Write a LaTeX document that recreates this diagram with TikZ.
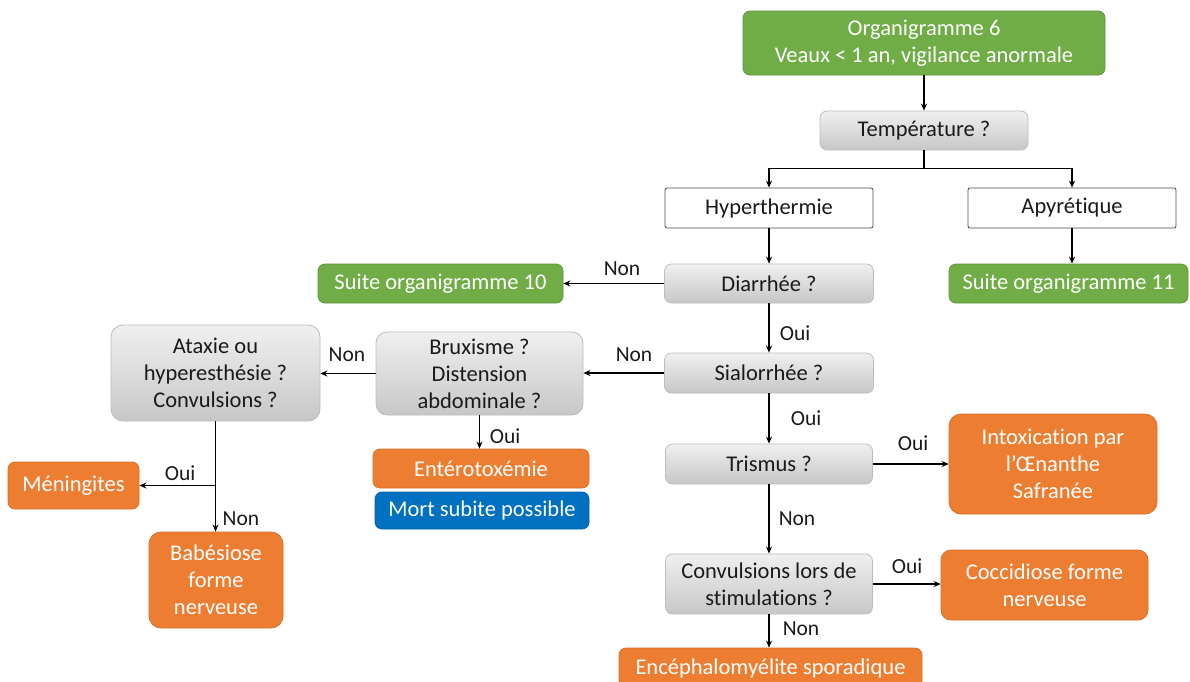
\documentclass[tikz,border=0pt]{standalone}
\usepackage{fontspec}
\setmainfont[Ligatures=NoCommon]{Carlito}
\usetikzlibrary{arrows.meta,calc}
\definecolor{vert}{HTML}{70AD47}
\definecolor{orange}{HTML}{ED7D31}
\definecolor{bleu}{HTML}{0070C0}
\definecolor{txt}{HTML}{1A1A1A}
\definecolor{grisbord}{HTML}{BDBDBD}
\tikzset{
  base/.style={rounded corners=7pt, inner sep=0pt, align=center,
    font=\fontsize{22.5}{27}\selectfont, line width=0.8pt},
  sz/.style 2 args={minimum width=#1pt, minimum height=#2pt},
  greenbox/.style={base, fill=vert, draw=vert!85!black, text=white},
  orangebox/.style={base, fill=orange, draw=orange!90!black, text=white},
  bluebox/.style={base, fill=bleu, draw=bleu!90!black, text=white},
  graybox/.style={base, top color=gray!12, bottom color=gray!44, draw=grisbord, text=txt},
  whitebox/.style={base, rounded corners=2pt, fill=white, draw=black!70, text=txt},
  arr/.style={-{Stealth[length=7pt,width=6pt]}, line width=1.2pt},
  ln/.style={line width=1.2pt},
  lbl/.style={font=\fontsize{21.5}{24}\selectfont, text=txt, inner sep=0pt}
}
\begin{document}
\begin{tikzpicture}[x=1pt,y=-1pt]
\useasboundingbox (0,0) rectangle (1190,681);
\clip (0,0) rectangle (1190,681);
\fill[white] (0,0) rectangle (1190,681);

% nodes
\node[greenbox, sz={362}{64}] (org6) at (924,43) {Organigramme 6\\Veaux < 1 an, vigilance anormale};
\node[graybox, sz={208}{39}] (temp) at (924,130.5) {Température ?};
\node[whitebox, sz={208}{40}] (hyper) at (769,208) {Hyperthermie};
\node[whitebox, sz={208}{40}] (apy) at (1072,208) {Apyrétique};
\node[greenbox, sz={245}{39}] (s10) at (440.5,283.5) {Suite organigramme 10};
\node[graybox, sz={209}{39}] (diar) at (769,283.5) {Diarrhée ?};
\node[greenbox, sz={239}{39}] (s11) at (1068.5,283.5) {Suite organigramme 11};
\node[graybox, sz={209}{40}] (sial) at (769,373) {Sialorrhée ?};
\node[graybox, rounded corners=11pt, sz={207}{83}] (brux) at (479.5,373.5) {Bruxisme ?\\Distension\\abdominale ?};
\node[graybox, rounded corners=12pt, sz={209}{96}] (atax) at (215.5,373) {Ataxie ou\\hyperesthésie ?\\Convulsions ?};
\node[orangebox, sz={216}{39}] (ent) at (481,468.5) {Entérotoxémie};
\node[bluebox, sz={214}{37}] (mort) at (482,510.5) {Mort subite possible};
\node[orangebox, sz={131}{47}] (men) at (73.5,485.5) {Méningites};
\node[orangebox, rounded corners=12pt, sz={134}{96}] (bab) at (216,580) {Babésiose\\forme\\nerveuse};
\node[graybox, sz={207}{40}] (tris) at (769,464) {Trismus ?};
\node[orangebox, rounded corners=12pt, sz={208}{100}] (intox) at (1053,464) {Intoxication par\\l’Œnanthe\\Safranée};
\node[graybox, sz={207}{60}] (conv) at (769,584) {Convulsions lors de\\stimulations ?};
\node[orangebox, rounded corners=10pt, sz={207}{70}] (cocc) at (1044.5,585) {Coccidiose forme\\nerveuse};
\node[orangebox, sz={303}{40}] (enc) at (770.5,668) {Encéphalomyélite sporadique};

% connectors
\draw[arr] (org6.south) -- (temp.north);
\coordinate (tj) at ($(temp.south)+(0,18)$);
\draw[ln] (temp.south) -- (tj);
\draw[arr] (tj) -| (hyper.north);
\draw[arr] (tj) -| (apy.north);
\draw[arr] (hyper.south) -- (diar.north);
\draw[arr] (apy.south) -- (s11.north -| apy.south);
\draw[arr] (diar.west) -- (s10.east);
\draw[arr] (diar.south) -- (sial.north);
\draw[arr] (sial.west) -- (brux.east |- sial.west);
\draw[arr] (brux.west) -- (atax.east |- brux.west);
\draw[arr] (brux.south) -- (ent.north -| brux.south);
\draw[arr] (sial.south) -- (tris.north);
\draw[arr] (tris.east) -- (intox.west);
\draw[arr] (tris.south) -- (conv.north);
\draw[arr] (conv.east) -- (cocc.west |- conv.east);
\draw[arr] (conv.south) -- (enc.north -| conv.south);
\draw[arr] (atax.south) -- (bab.north -| atax.south);
\coordinate (aj) at (atax.south |- men.east);
\draw[arr] (aj) -- (men.east);

% branch labels
\node[lbl] (l1) at (622,269) {Non};
\node[lbl] (l2) at (795,333) {Oui};
\node[lbl] (l3) at (634,355) {Non};
\node[lbl] (l4) at (347,355) {Non};
\node[lbl] (l5) at (505,436) {Oui};
\node[lbl] (l6) at (806,418) {Oui};
\node[lbl] (l7) at (913,443) {Oui};
\node[lbl] (l8) at (797,519) {Non};
\node[lbl] (l9) at (907,566) {Oui};
\node[lbl] (l10) at (801,629) {Non};
\node[lbl] (l11) at (180,473) {Oui};
\node[lbl] (l12) at (241,519) {Non};
\end{tikzpicture}
\end{document}
